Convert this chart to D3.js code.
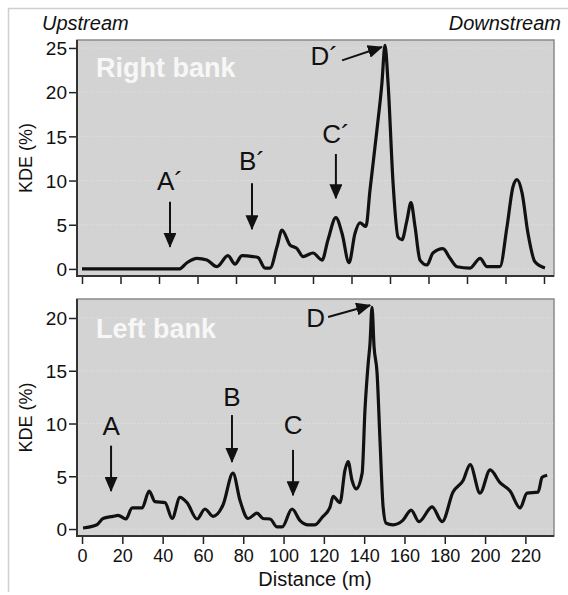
<!DOCTYPE html>
<html>
<head>
<meta charset="utf-8">
<script src="https://cdn.jsdelivr.net/npm/d3@7"></script>
<style>
  body { margin: 0; background: #fff; }
  svg { display: block; font-family: "Liberation Sans", Arial, sans-serif; }
</style>
</head>
<body>
<svg id="chart" width="568" height="595"></svg>
<script>
// Right bank KDE (distance m, KDE %)
const rightDist = [0, 50.4, 54.5, 59.7, 64.9, 70.1, 75.8, 79.5, 83.1, 88.8, 91.4, 95.1, 97.7, 101.3, 103.9,
  108.1, 111.7, 114.8, 120.0, 124.7, 127.8, 131.9, 135.1, 138.7, 141.8, 144.4, 147.5, 149.6, 153.2, 155.8,
  157.4, 159.0, 161.6, 164.2, 166.2, 168.8, 170.9, 173.0, 175.6, 179.2, 182.3, 187.5, 191.2, 194.8, 201.6,
  206.8, 210.4, 217.1, 220.8, 223.9, 226.0, 228.6, 231.7, 235.3, 240.5];
const rightKde = [0, 0, 0.7, 1.2, 1.0, 0.25, 1.5, 0.55, 1.5, 1.4, 1.3, 0.1, 0.1, 2.5, 4.4,
  2.7, 2.3, 1.4, 1.8, 1.0, 3.3, 5.8, 4.0, 0.7, 4.0, 5.2, 4.8, 8.9, 15.7, 21,
  25.3, 21, 9.7, 3.6, 3.3, 5.5, 7.5, 4.8, 1.0, 0.45, 1.8, 2.3, 1.2, 0.25, 0.1,
  1.2, 0.25, 0.25, 4.8, 9.3, 10.1, 8.6, 4.0, 0.8, 0.1];

// Left bank KDE
const leftDist = [0.5, 7.4, 10.4, 15.4, 17.9, 21.8, 24.8, 29.8, 33.3, 36.2, 41.2, 44.7, 48.6, 52.1, 57.1,
  61.0, 65.0, 70.0, 74.9, 78.4, 82.4, 86.8, 89.8, 93.3, 96.8, 99.3, 104.2, 108.2, 112.2, 115.6,
  119.1, 123.1, 124.6, 128.0, 130.5, 132.0, 134.0, 136.0, 139.0, 140.4, 142.0, 142.9, 143.9, 144.9, 146.4,
  147.9, 149.4, 150.9, 154.3, 159.3, 163.3, 167.2, 173.7, 178.7, 184.1, 189.1, 192.6, 197.5, 202.5,
  207.4, 212.4, 217.4, 220.8, 226.3, 228.3, 230.8];
const leftKde = [0.1, 0.4, 1.0, 1.2, 1.3, 0.95, 2.0, 2.0, 3.6, 2.6, 2.5, 1.0, 3.0, 2.5, 0.95,
  1.9, 1.2, 2.3, 5.3, 2.7, 1.0, 1.5, 1.0, 0.95, 0.2, 0.2, 1.9, 0.8, 0.4, 0.4,
  1.1, 2.1, 3.1, 2.5, 5.6, 6.4, 4.6, 3.8, 5.3, 11.3, 15.7, 17.6, 21.0, 17.3, 14.8,
  8.2, 2.1, 0.55, 0.4, 0.85, 1.8, 0.7, 2.1, 0.7, 3.5, 4.6, 6.1, 3.4, 5.6,
  4.4, 3.6, 2.0, 3.4, 3.5, 4.9, 5.1];

const rightYTicks = [0, 5, 10, 15, 20, 25];
const leftYTicks = [0, 5, 10, 15, 20];
const rightXTicks = d3.range(0, 241, 20);
const leftXTicks = d3.range(0, 221, 20);

// annotation arrows: label, x, label y, arrow start y, arrow end y
const rightMarks = [
  { label: "A´", x: 45.7, ty: 8.9, y0: 7.6, y1: 2.5 },
  { label: "B´", x: 88.3, ty: 11.2, y0: 9.7, y1: 4.5 },
  { label: "C´", x: 131.9, ty: 14.25, y0: 13.0, y1: 8.0 }
];
const leftMarks = [
  { label: "A", x: 14.4, ty: 8.9, y0: 7.9, y1: 3.6 },
  { label: "B", x: 74.4, ty: 11.7, y0: 10.8, y1: 6.35 },
  { label: "C", x: 104.7, ty: 9.0, y0: 7.5, y1: 3.2 }
];
// peak labels: text end x, text y, arrow from (x0,y0) to (x1,y1)
const rightPeak = { label: "D´", tx: 133, ty: 23.1, x0: 135.1, y0: 23.6, x1: 155.8, y1: 25.1 };
const leftPeak = { label: "D", tx: 120.6, ty: 19.1, x0: 122.1, y0: 20.1, x1: 143.0, y1: 21.2 };

const svg = d3.select("#chart");

// light frame
svg.append("line").attr("x1", 8).attr("x2", 568).attr("y1", 8.5).attr("y2", 8.5)
  .attr("stroke", "#cfcfcf").attr("stroke-width", 1.5);
svg.append("line").attr("x1", 8.5).attr("x2", 8.5).attr("y1", 8).attr("y2", 592)
  .attr("stroke", "#cfcfcf").attr("stroke-width", 1.5);

const defs = svg.append("defs");
defs.append("marker")
  .attr("id", "head")
  .attr("viewBox", "0 0 15 13")
  .attr("refX", 14).attr("refY", 6.5)
  .attr("markerWidth", 15).attr("markerHeight", 13)
  .attr("markerUnits", "userSpaceOnUse")
  .attr("orient", "auto")
  .append("path").attr("d", "M0,0 L15,6.5 L0,13 Z").attr("fill", "#111");

function panel(cfg) {
  const x = d3.scaleLinear().domain(cfg.xDomain).range([77, 554]);
  const y = d3.scaleLinear().domain(cfg.yDomain).range([cfg.bottom, cfg.top]);
  const g = svg.append("g");

  g.append("rect")
    .attr("x", 77).attr("y", cfg.top)
    .attr("width", 477).attr("height", cfg.bottom - cfg.top)
    .attr("fill", "#d3d3d3").attr("stroke", "#8a8a8a").attr("stroke-width", 1.5);

  // dotted grid
  g.selectAll(".grid").data(cfg.yTicks).enter().append("line")
    .attr("x1", 78).attr("x2", 553)
    .attr("y1", d => y(d)).attr("y2", d => y(d))
    .attr("stroke", "#e4e4e4").attr("stroke-width", 1).attr("stroke-dasharray", "1,2");

  // axes
  const yAxis = g.append("g").attr("transform", "translate(77,0)")
    .call(d3.axisLeft(y).tickValues(cfg.yTicks).tickSize(8).tickPadding(2).tickSizeOuter(0));
  yAxis.select(".domain").remove();
  yAxis.selectAll("text").attr("font-size", 19).attr("fill", "#111").attr("dy", "0.36em");
  yAxis.selectAll("line").attr("stroke", "#222").attr("stroke-width", 1.5);

  const xAxis = g.append("g").attr("transform", "translate(0," + cfg.bottom + ")")
    .call(d3.axisBottom(x).tickValues(cfg.xTicks).tickSize(8).tickPadding(5).tickSizeOuter(0)
      .tickFormat(cfg.xLabels ? d3.format("d") : ""));
  xAxis.select(".domain").remove();
  xAxis.selectAll("text").attr("font-size", 18).attr("fill", "#111");
  xAxis.selectAll("line").attr("stroke", "#222").attr("stroke-width", 1.5);

  g.append("line").attr("x1", 77).attr("x2", 77).attr("y1", cfg.top).attr("y2", cfg.bottom + 1)
    .attr("stroke", "#333").attr("stroke-width", 2);
  g.append("line").attr("x1", 76).attr("x2", 554).attr("y1", cfg.bottom).attr("y2", cfg.bottom)
    .attr("stroke", "#333").attr("stroke-width", 2);

  const pts = cfg.dist.map((d, i) => [d, cfg.kde[i]]);
  const line = d3.line()
    .x(d => x(d[0]))
    .y(d => y(d[1]))
    .curve(d3.curveMonotoneX);
  g.append("path")
    .datum(pts)
    .attr("d", line)
    .attr("fill", "none")
    .attr("stroke", "#111")
    .attr("stroke-width", 3.2)
    .attr("stroke-linejoin", "round");

  g.append("text")
    .attr("x", 96).attr("y", cfg.top + cfg.titleDy)
    .attr("font-size", 27).attr("font-weight", "bold").attr("fill", "#f7f7f7")
    .text(cfg.title);

  g.append("text")
    .attr("transform", "translate(32," + ((cfg.top + cfg.bottom) / 2) + ") rotate(-90)")
    .attr("text-anchor", "middle").attr("font-size", 18).attr("fill", "#111")
    .text("KDE (%)");

  // vertical arrows
  cfg.marks.forEach(m => {
    g.append("text")
      .attr("x", x(m.x)).attr("y", y(m.ty))
      .attr("text-anchor", "middle").attr("font-size", 26).attr("fill", "#111")
      .text(m.label);
    g.append("line")
      .attr("x1", x(m.x)).attr("x2", x(m.x))
      .attr("y1", y(m.y0)).attr("y2", y(m.y1))
      .attr("stroke", "#111").attr("stroke-width", 2)
      .attr("marker-end", "url(#head)");
  });

  const p = cfg.peak;
  g.append("text")
    .attr("x", x(p.tx)).attr("y", y(p.ty))
    .attr("text-anchor", "end").attr("font-size", 26).attr("fill", "#111")
    .text(p.label);
  g.append("line")
    .attr("x1", x(p.x0)).attr("y1", y(p.y0))
    .attr("x2", x(p.x1)).attr("y2", y(p.y1))
    .attr("stroke", "#111").attr("stroke-width", 2)
    .attr("marker-end", "url(#head)");
}

panel({
  top: 40, bottom: 276,
  xDomain: [-2.6, 245.2], yDomain: [-0.8, 25.9],
  yTicks: rightYTicks, xTicks: rightXTicks, xLabels: false,
  dist: rightDist, kde: rightKde,
  title: "Right bank", titleDy: 37,
  marks: rightMarks, peak: rightPeak
});

panel({
  top: 299, bottom: 536,
  xDomain: [-2.5, 234.2], yDomain: [-0.66, 21.8],
  yTicks: leftYTicks, xTicks: leftXTicks, xLabels: true,
  dist: leftDist, kde: leftKde,
  title: "Left bank", titleDy: 39,
  marks: leftMarks, peak: leftPeak
});

svg.append("text")
  .attr("x", 42).attr("y", 30)
  .attr("font-size", 20).attr("font-style", "italic").attr("fill", "#111")
  .text("Upstream");
svg.append("text")
  .attr("x", 561).attr("y", 30)
  .attr("text-anchor", "end")
  .attr("font-size", 20).attr("font-style", "italic").attr("fill", "#111")
  .text("Downstream");

svg.append("text")
  .attr("x", 315).attr("y", 586)
  .attr("text-anchor", "middle").attr("font-size", 20).attr("fill", "#111")
  .text("Distance (m)");
</script>
</body>
</html>
